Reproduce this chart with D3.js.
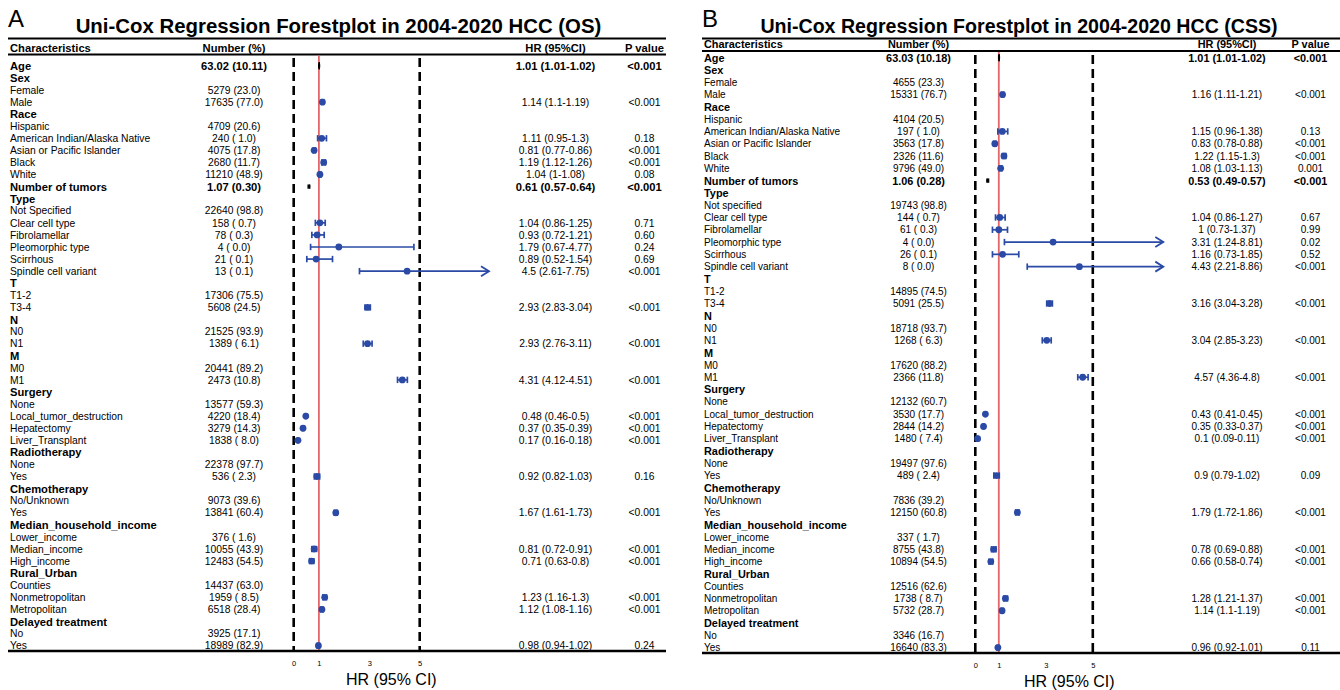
<!DOCTYPE html>
<html>
<head>
<meta charset="utf-8">
<script src="https://cdn.jsdelivr.net/npm/d3@7"></script>
<style>
  body { margin: 0; background: #fff; }
  svg { display: block; }
  text { font-family: "Liberation Sans", Arial, Helvetica, sans-serif; fill: #000; }
</style>
</head>
<body>
<svg id="chart" width="1340" height="690"></svg>
<script>
// ---- row labels (shared structure, 49 rows) ----
const labelsOS = ["Age", "Sex", "Female", "Male", "Race", "Hispanic", "American Indian/Alaska Native",
  "Asian or Pacific Islander", "Black", "White", "Number of tumors", "Type", "Not Specified",
  "Clear cell type", "Fibrolamellar", "Pleomorphic type", "Scirrhous", "Spindle cell variant",
  "T", "T1-2", "T3-4", "N", "N0", "N1", "M", "M0", "M1", "Surgery", "None",
  "Local_tumor_destruction", "Hepatectomy", "Liver_Transplant", "Radiotherapy", "None", "Yes",
  "Chemotherapy", "No/Unknown", "Yes", "Median_household_income", "Lower_income", "Median_income",
  "High_income", "Rural_Urban", "Counties", "Nonmetropolitan", "Metropolitan", "Delayed treatment",
  "No", "Yes"];
const labelsCSS = labelsOS.map(s => s === "Not Specified" ? "Not specified" : s);

// rows printed in bold (variable headings and continuous variables)
const boldRows = [0, 1, 4, 10, 11, 18, 21, 24, 27, 32, 35, 38, 42, 46];
// continuous variables: bold statistics, small black marker
const continuousRows = [0, 10];

// ---- OS cohort ----
const osNumbers = ["63.02 (10.11)", "", "5279 (23.0)", "17635 (77.0)", "", "4709 (20.6)", "240 ( 1.0)",
  "4075 (17.8)", "2680 (11.7)", "11210 (48.9)", "1.07 (0.30)", "", "22640 (98.8)", "158 ( 0.7)",
  "78 ( 0.3)", "4 ( 0.0)", "21 ( 0.1)", "13 ( 0.1)", "", "17306 (75.5)", "5608 (24.5)", "",
  "21525 (93.9)", "1389 ( 6.1)", "", "20441 (89.2)", "2473 (10.8)", "", "13577 (59.3)",
  "4220 (18.4)", "3279 (14.3)", "1838 ( 8.0)", "", "22378 (97.7)", "536 ( 2.3)", "",
  "9073 (39.6)", "13841 (60.4)", "", "376 ( 1.6)", "10055 (43.9)", "12483 (54.5)", "",
  "14437 (63.0)", "1959 ( 8.5)", "6518 (28.4)", "", "3925 (17.1)", "18989 (82.9)"];
const osHR = [1.01, null, null, 1.14, null, null, 1.11, 0.81, 1.19, 1.04, 0.61, null, null, 1.04, 0.93,
  1.79, 0.89, 4.5, null, null, 2.93, null, null, 2.93, null, null, 4.31, null, null, 0.48, 0.37, 0.17,
  null, null, 0.92, null, null, 1.67, null, null, 0.81, 0.71, null, null, 1.23, 1.12, null, null, 0.98];
const osLower = [1.01, null, null, 1.1, null, null, 0.95, 0.77, 1.12, 1, 0.57, null, null, 0.86, 0.72,
  0.67, 0.52, 2.61, null, null, 2.83, null, null, 2.76, null, null, 4.12, null, null, 0.46, 0.35, 0.16,
  null, null, 0.82, null, null, 1.61, null, null, 0.72, 0.63, null, null, 1.16, 1.08, null, null, 0.94];
const osUpper = [1.02, null, null, 1.19, null, null, 1.3, 0.86, 1.26, 1.08, 0.64, null, null, 1.25, 1.21,
  4.77, 1.54, 7.75, null, null, 3.04, null, null, 3.11, null, null, 4.51, null, null, 0.5, 0.39, 0.18,
  null, null, 1.03, null, null, 1.73, null, null, 0.91, 0.8, null, null, 1.3, 1.16, null, null, 1.02];
const osP = ["<0.001", "", "", "<0.001", "", "", "0.18", "<0.001", "<0.001", "0.08", "<0.001", "", "",
  "0.71", "0.60", "0.24", "0.69", "<0.001", "", "", "<0.001", "", "", "<0.001", "", "", "<0.001", "", "",
  "<0.001", "<0.001", "<0.001", "", "", "0.16", "", "", "<0.001", "", "", "<0.001", "<0.001", "", "",
  "<0.001", "<0.001", "", "", "0.24"];

// ---- CSS cohort ----
const cssNumbers = ["63.03 (10.18)", "", "4655 (23.3)", "15331 (76.7)", "", "4104 (20.5)", "197 ( 1.0)",
  "3563 (17.8)", "2326 (11.6)", "9796 (49.0)", "1.06 (0.28)", "", "19743 (98.8)", "144 ( 0.7)",
  "61 ( 0.3)", "4 ( 0.0)", "26 ( 0.1)", "8 ( 0.0)", "", "14895 (74.5)", "5091 (25.5)", "",
  "18718 (93.7)", "1268 ( 6.3)", "", "17620 (88.2)", "2366 (11.8)", "", "12132 (60.7)",
  "3530 (17.7)", "2844 (14.2)", "1480 ( 7.4)", "", "19497 (97.6)", "489 ( 2.4)", "",
  "7836 (39.2)", "12150 (60.8)", "", "337 ( 1.7)", "8755 (43.8)", "10894 (54.5)", "",
  "12516 (62.6)", "1738 ( 8.7)", "5732 (28.7)", "", "3346 (16.7)", "16640 (83.3)"];
const cssHR = [1.01, null, null, 1.16, null, null, 1.15, 0.83, 1.22, 1.08, 0.53, null, null, 1.04, 1,
  3.31, 1.16, 4.43, null, null, 3.16, null, null, 3.04, null, null, 4.57, null, null, 0.43, 0.35, 0.1,
  null, null, 0.9, null, null, 1.79, null, null, 0.78, 0.66, null, null, 1.28, 1.14, null, null, 0.96];
const cssLower = [1.01, null, null, 1.11, null, null, 0.96, 0.78, 1.15, 1.03, 0.49, null, null, 0.86, 0.73,
  1.24, 0.73, 2.21, null, null, 3.04, null, null, 2.85, null, null, 4.36, null, null, 0.41, 0.33, 0.09,
  null, null, 0.79, null, null, 1.72, null, null, 0.69, 0.58, null, null, 1.21, 1.1, null, null, 0.92];
const cssUpper = [1.02, null, null, 1.21, null, null, 1.38, 0.88, 1.3, 1.13, 0.57, null, null, 1.27, 1.37,
  8.81, 1.85, 8.86, null, null, 3.28, null, null, 3.23, null, null, 4.8, null, null, 0.45, 0.37, 0.11,
  null, null, 1.02, null, null, 1.86, null, null, 0.88, 0.74, null, null, 1.37, 1.19, null, null, 1.01];
const cssP = ["<0.001", "", "", "<0.001", "", "", "0.13", "<0.001", "<0.001", "0.001", "<0.001", "", "",
  "0.67", "0.99", "0.02", "0.52", "<0.001", "", "", "<0.001", "", "", "<0.001", "", "", "<0.001", "", "",
  "<0.001", "<0.001", "<0.001", "", "", "0.09", "", "", "<0.001", "", "", "<0.001", "<0.001", "", "",
  "<0.001", "<0.001", "", "", "0.11"];

// axis ticks and reference lines
const tickValues = [0, 1, 3, 5];
const dashedRefs = [0, 5];
const nullRef = 1;

const BLUE = "#2a4aa5";
const RED = "#e2666a";

const svg = d3.select("#chart");

function drawPanel(cfg, d) {
  const g = svg.append("g");
  const n = d.labels.length;
  const y = d3.scalePoint().domain(d3.range(n)).range([cfg.row0, cfg.row0 + cfg.step * (n - 1)]);
  const x = d3.scaleLinear().domain([0, cfg.xMax]).range([cfg.x0, cfg.x0 + cfg.unit * cfg.xMax]);
  const base = (i, fs) => y(i) + fs * 0.36;

  // panel letter and title
  g.append("text").attr("x", cfg.left).attr("y", cfg.letterY)
    .style("font-size", cfg.letterSize + "px").text(cfg.letter);
  g.append("text").attr("x", cfg.titleX).attr("y", cfg.titleY).attr("text-anchor", "middle")
    .style("font-size", cfg.titleSize + "px").style("font-weight", "bold").text(cfg.title);

  // table rules
  [cfg.line1, cfg.line2].forEach(ly => g.append("line")
    .attr("x1", cfg.left).attr("x2", cfg.right).attr("y1", ly).attr("y2", ly)
    .attr("stroke", "#000").attr("stroke-width", 2.2));

  // column headers
  const hfs = cfg.boldSize;
  const hy = cfg.headerY + hfs * 0.36;
  const hdr = [["Characteristics", cfg.left + 2, "start"], ["Number (%)", cfg.numX, "middle"],
               ["HR (95%CI)", cfg.hrX, "middle"], ["P value", cfg.pX, "middle"]];
  hdr.forEach(([t, hx, anc]) => g.append("text").attr("x", hx).attr("y", hy).attr("text-anchor", anc)
    .style("font-size", hfs + "px").style("font-weight", "bold").text(t));

  // reference lines
  dashedRefs.forEach(v => g.append("line")
    .attr("x1", x(v)).attr("x2", x(v)).attr("y1", cfg.dashTop).attr("y2", cfg.axisY)
    .attr("stroke", "#000").attr("stroke-width", 2.6).attr("stroke-dasharray", "9,5"));
  g.append("line").attr("x1", x(nullRef)).attr("x2", x(nullRef))
    .attr("y1", cfg.line2 + 1).attr("y2", cfg.axisY)
    .attr("stroke", RED).attr("stroke-width", 1.8);

  // text columns
  d3.range(n).forEach(i => {
    const isBold = boldRows.includes(i);
    const isCont = continuousRows.includes(i);
    const fs = isBold ? cfg.boldSize : cfg.textSize;
    g.append("text").attr("x", cfg.left + 2).attr("y", base(i, fs))
      .style("font-size", fs + "px").style("font-weight", isBold ? "bold" : "normal")
      .text(d.labels[i]);
    const vfs = isCont ? cfg.boldSize : cfg.textSize;
    const vw = isCont ? "bold" : "normal";
    if (d.numbers[i]) {
      g.append("text").attr("x", cfg.numX).attr("y", base(i, vfs)).attr("text-anchor", "middle")
        .attr("xml:space", "preserve")
        .style("font-size", vfs + "px").style("font-weight", vw).style("white-space", "pre")
        .text(d.numbers[i]);
    }
    if (d.hr[i] != null) {
      g.append("text").attr("x", cfg.hrX).attr("y", base(i, vfs)).attr("text-anchor", "middle")
        .style("font-size", vfs + "px").style("font-weight", vw)
        .text(`${d.hr[i]} (${d.lower[i]}-${d.upper[i]})`);
    }
    if (d.p[i]) {
      g.append("text").attr("x", cfg.pX).attr("y", base(i, vfs)).attr("text-anchor", "middle")
        .style("font-size", vfs + "px").style("font-weight", vw).text(d.p[i]);
    }
  });

  // confidence intervals and point estimates
  d3.range(n).filter(i => d.hr[i] != null).forEach(i => {
    const isCont = continuousRows.includes(i);
    const col = isCont ? "#000" : BLUE;
    const yc = y(i);
    const xl = x(d.lower[i]);
    const clipped = d.upper[i] >= cfg.xMax;
    const xh = x(Math.min(d.upper[i], cfg.xMax));
    const capH = isCont ? (i === 0 ? 3.5 : 2.2) : 3.2;
    const sw = isCont ? 1.2 : 1.7;
    g.append("line").attr("x1", xl).attr("x2", xh).attr("y1", yc).attr("y2", yc)
      .attr("stroke", col).attr("stroke-width", sw);
    g.append("line").attr("x1", xl).attr("x2", xl).attr("y1", yc - capH).attr("y2", yc + capH)
      .attr("stroke", col).attr("stroke-width", sw);
    if (clipped) {
      g.append("path")
        .attr("d", `M${xh - 8},${yc - 5}L${xh},${yc}L${xh - 8},${yc + 5}`)
        .attr("fill", "none").attr("stroke", col).attr("stroke-width", 1.8);
    } else {
      g.append("line").attr("x1", xh).attr("x2", xh).attr("y1", yc - capH).attr("y2", yc + capH)
        .attr("stroke", col).attr("stroke-width", sw);
    }
    if (isCont) {
      g.append("ellipse").attr("cx", x(d.hr[i])).attr("cy", yc)
        .attr("rx", 1.1).attr("ry", i === 0 ? 3.2 : 2.3).attr("fill", "#000");
    } else {
      g.append("circle").attr("cx", x(d.hr[i])).attr("cy", yc).attr("r", 3.4).attr("fill", BLUE);
    }
  });

  // x axis (table bottom rule) with tick labels
  g.append("line").attr("x1", cfg.left).attr("x2", cfg.right).attr("y1", cfg.axisY).attr("y2", cfg.axisY)
    .attr("stroke", "#000").attr("stroke-width", 2.4);
  const ax = g.append("g").attr("transform", `translate(0,${cfg.tickY})`)
    .call(d3.axisBottom(x).tickValues(tickValues).tickSize(0).tickPadding(0));
  ax.select(".domain").remove();
  ax.selectAll("text").style("font-size", "7.5px").attr("font-family", null).attr("dy", "0");
  g.append("text").attr("x", x(cfg.xMax / 2)).attr("y", cfg.xlabY).attr("text-anchor", "middle")
    .style("font-size", "16px").text("HR (95% CI)");
}

drawPanel({
  letter: "A", letterSize: 24, letterY: 27, left: 8, right: 666,
  title: "Uni-Cox Regression Forestplot in 2004-2020 HCC (OS)", titleX: 338.5, titleY: 33, titleSize: 20.4,
  line1: 38.5, headerY: 48, line2: 54.5, row0: 65.8, step: 12.08, axisY: 651, dashTop: 58,
  x0: 293.7, unit: 25.2, xMax: 7.75, numX: 234, hrX: 555.5, pX: 644.5,
  textSize: 10.3, boldSize: 11.2, tickY: 665.5, xlabY: 684.5
}, { labels: labelsOS, numbers: osNumbers, hr: osHR, lower: osLower, upper: osUpper, p: osP });

drawPanel({
  letter: "B", letterSize: 24, letterY: 27, left: 702, right: 1340,
  title: "Uni-Cox Regression Forestplot in 2004-2020 HCC (CSS)", titleX: 1019, titleY: 32.7, titleSize: 19.6,
  line1: 38.5, headerY: 44.5, line2: 51, row0: 57.7, step: 12.29, axisY: 653, dashTop: 55,
  x0: 975.3, unit: 23.5, xMax: 8, numX: 918.5, hrX: 1227, pX: 1310.5,
  textSize: 10, boldSize: 10.9, tickY: 668, xlabY: 686.5
}, { labels: labelsCSS, numbers: cssNumbers, hr: cssHR, lower: cssLower, upper: cssUpper, p: cssP });
</script>
</body>
</html>
